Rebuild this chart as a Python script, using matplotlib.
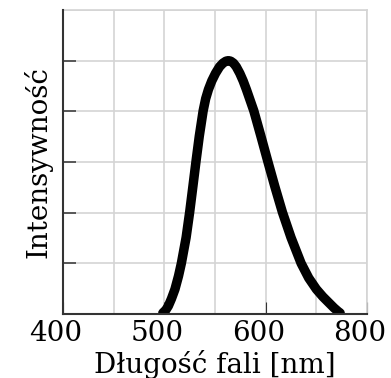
import matplotlib
matplotlib.use("Agg")
import matplotlib.pyplot as plt
import matplotlib.transforms as mtransforms

# Data
wavelength = [498.5, 501.5, 504.0, 507.0, 510.5, 514.0, 516.8, 521.5, 525.0, 528.2,
              531.3, 534.5, 538.3, 540.8, 543.5, 546.8, 550.5, 554.5, 557.8, 560.8,
              563.2,
              565.5, 568.3, 571.0, 574.5, 577.8, 581.0, 588.3, 595.3, 602.0, 609.0,
              616.5, 625.0, 635.0, 642.5, 650.0, 656.5, 662.0, 667.5, 671.5, 673.5]
intensity = [0.02, 0.08, 0.16, 0.30, 0.49, 0.75, 1.0, 1.51, 2.01, 2.52,
             3.02, 3.51, 4.01, 4.25, 4.43, 4.60, 4.75, 4.88, 4.95, 4.99,
             5.0,
             4.99, 4.95, 4.88, 4.75, 4.60, 4.43, 4.01, 3.51, 3.02, 2.52,
             2.01, 1.51, 1.0, 0.71, 0.49, 0.34, 0.23, 0.12, 0.05, 0.02]
xtick_pos = [400, 500, 600, 700]
xtick_labels = ["400", "500", "600", "800"]
xminor_pos = [450, 550, 650]
ytick_pos = [1, 2, 3, 4, 5]
yminor_pos = [6]

plt.rcParams['font.family'] = ['DejaVu Serif']

fig = plt.figure(figsize=(3.91, 3.78), dpi=100)
ax = fig.add_axes([63/391, 64/378, 304/391, 304/378])

grid_c = "#d4d4d4"
spine_c = "#333333"

ax.plot(wavelength, intensity, color="black", lw=6.8,
        solid_capstyle="round", solid_joinstyle="round", zorder=3)

ax.set_xlim(400, 700)
ax.set_ylim(0, 6)

ax.set_xticks(xtick_pos)
ax.set_xticklabels(xtick_labels)
ax.set_xticks(xminor_pos, minor=True)
ax.set_yticks(ytick_pos)
ax.set_yticklabels([])
ax.set_yticks(yminor_pos, minor=True)

ax.grid(True, which="both", color=grid_c, lw=1.2, zorder=0)
ax.set_axisbelow(True)

ax.tick_params(axis="x", which="major", direction="in", length=9, width=0.8,
               color=spine_c, labelsize=20, pad=4.5)
ax.tick_params(axis="y", which="major", direction="in", length=9.5, width=1.1,
               color=spine_c)
ax.tick_params(which="minor", length=0)

for s in ("left", "bottom"):
    ax.spines[s].set_color(spine_c)
    ax.spines[s].set_linewidth(1.5)
    ax.spines[s].set_zorder(4)
for s in ("top", "right"):
    ax.spines[s].set_color(grid_c)
    ax.spines[s].set_linewidth(1.2)

offset = mtransforms.ScaledTranslation(-7/100, 0, fig.dpi_scale_trans)
for lab in ax.get_xticklabels():
    lab.set_transform(lab.get_transform() + offset)

ax.set_xlabel("Długość fali [nm]", fontsize=20, labelpad=2)
ax.set_ylabel("Intensywność", fontsize=20, labelpad=4)

fig.savefig("out.png", dpi=100)
